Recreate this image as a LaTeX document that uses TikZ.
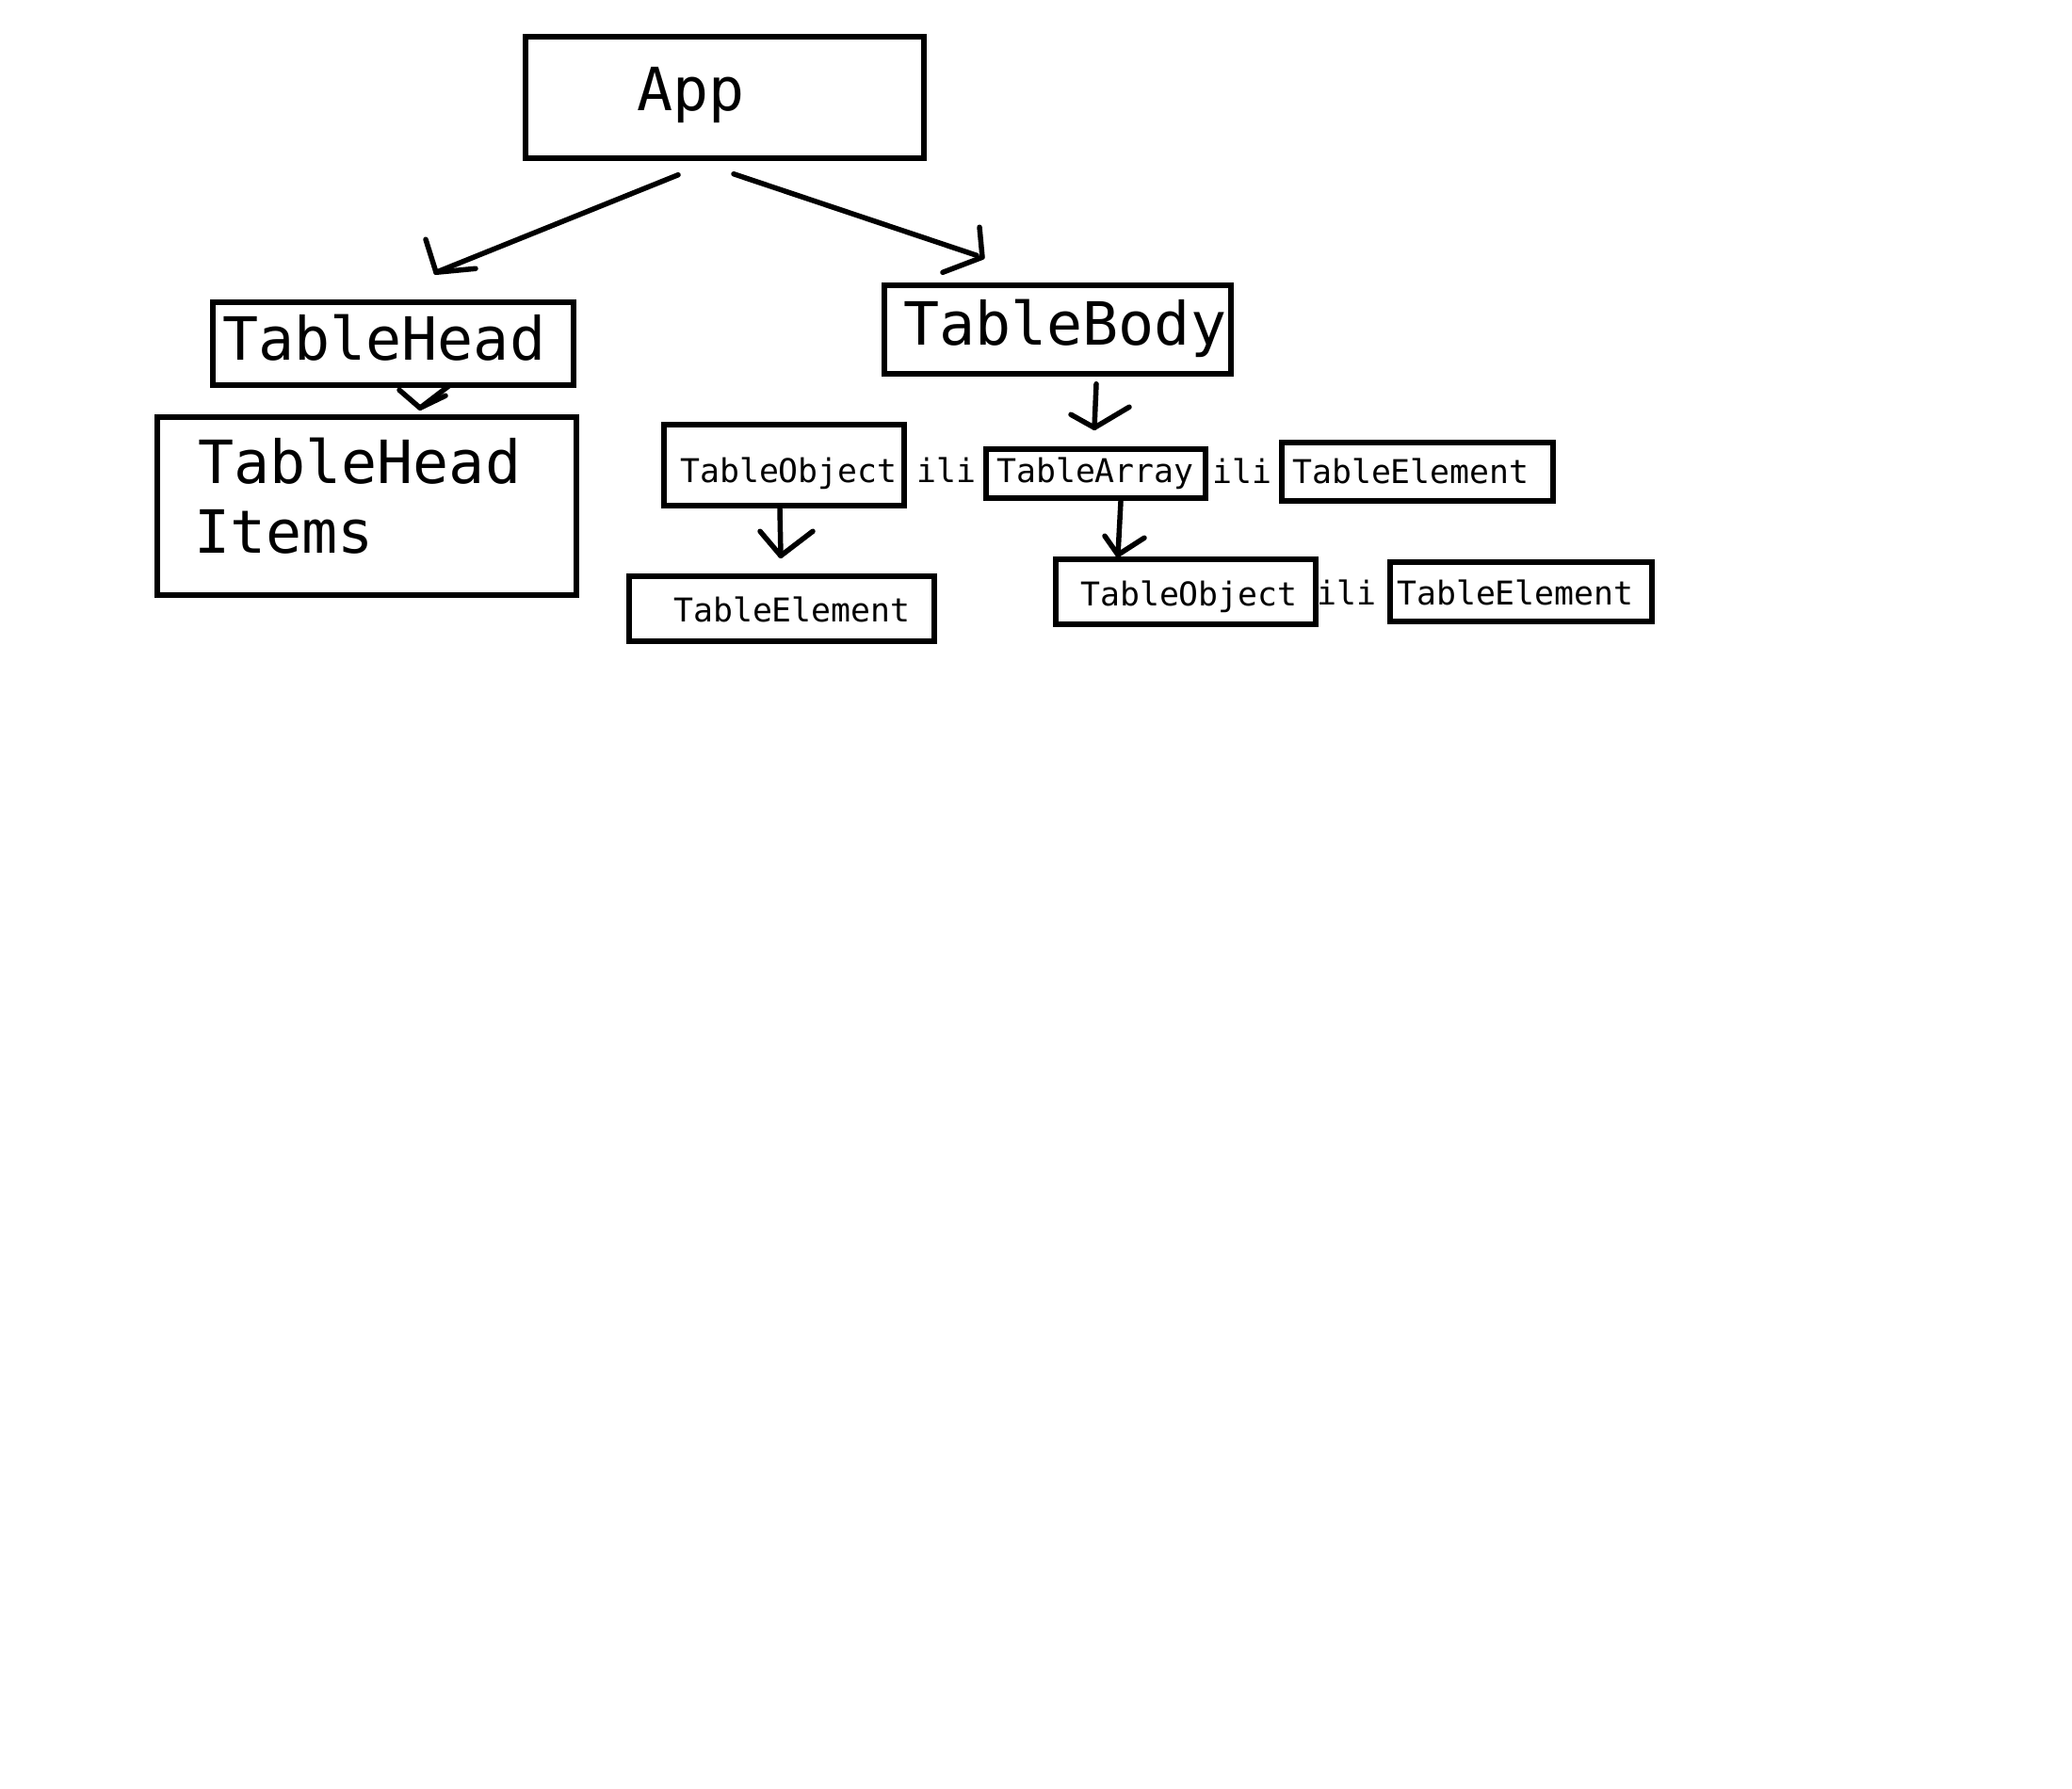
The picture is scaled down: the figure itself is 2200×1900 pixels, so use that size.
\documentclass[tikz,border=0pt]{standalone}
\usepackage{fontspec}
\newfontfamily\dmono{DejaVu Sans Mono}
\begin{document}
\begin{tikzpicture}[x=1pt,y=-1pt,
  box/.style={draw=black, line width=5.5pt, inner sep=0pt, rectangle},
  big/.style={font=\dmono\fontsize{63.3}{75}\selectfont, inner sep=0pt, anchor=base west},
  small/.style={font=\dmono\fontsize{34.8}{41}\selectfont, inner sep=0pt, anchor=base west},
  conn/.style={line width=5.5pt, line cap=round, line join=round}]
\fill[white] (0,0) rectangle (2200,1900);
\useasboundingbox (0,0) rectangle (2200,1900);

% boxes
\node[box, minimum width=423, minimum height=129] (app)   at (769.5,103.5) {};
\node[box, minimum width=383, minimum height=88]  (thead) at (417.5,365) {};
\node[box, minimum width=445, minimum height=189] (items) at (389.5,537.5) {};
\node[box, minimum width=368, minimum height=94]  (tbody) at (1123,350) {};
\node[box, minimum width=255, minimum height=86]  (tobj1) at (832.5,494) {};
\node[box, minimum width=233, minimum height=52]  (tarr)  at (1163.5,503) {};
\node[box, minimum width=288, minimum height=62]  (tel1)  at (1505,501) {};
\node[box, minimum width=324, minimum height=69]  (telA)  at (830,646.5) {};
\node[box, minimum width=276, minimum height=69]  (tobj2) at (1259,628.5) {};
\node[box, minimum width=278, minimum height=63]  (tel2)  at (1615,628.5) {};

% texts
\node[big] (lapp)    at (676,118) {App};
\node[big] (lthead)  at (236,382) {TableHead};
\node[big] (litems1) at (210,513) {TableHead};
\node[big] (litems2) at (206,587) {Items};
\node[big] (ltbody)  at (959,366) {TableBody};
\node[small] (ltobj1) at (722,512) {TableObject};
\node[small] (lili1)  at (973,512) {ili};
\node[small] (ltarr)  at (1058,512) {TableArray};
\node[small] (lili2)  at (1287,513) {ili};
\node[small] (ltel1)  at (1372,513) {TableElement};
\node[small] (ltelA)  at (715,660) {TableElement};
\node[small] (ltobj2) at (1147,643) {TableObject};
\node[small] (lili3)  at (1398,642) {ili};
\node[small] (ltel2)  at (1483,642) {TableElement};

% connectors (hand-drawn style)
\draw[conn] ([shift={(-49.5,15)}]app.south) -- ([shift={(45.5,-29)}]thead.north) coordinate (tip1);
\draw[conn] ([shift={(-11,-35)}]tip1) -- (tip1) -- ([shift={(42,-4)}]tip1);

\draw[conn] ([shift={(9.5,14)}]app.south) -- ([shift={(-86,-29)}]tbody.north) coordinate (end2);
\coordinate (tip2) at ([shift={(-80,-27)}]tbody.north);
\draw[conn] ([shift={(-3,-32)}]tip2) -- (tip2) -- ([shift={(-42,16)}]tip2);

\draw[conn] ([shift={(60.5,-3)}]thead.south) -- ([shift={(56.5,-7)}]items.north) coordinate (tip3);
\draw[conn] ([shift={(-22,-19)}]tip3) -- (tip3) -- ([shift={(27,-13)}]tip3);

\draw[conn] ([shift={(41,8)}]tbody.south) -- ([shift={(-1.5,-20)}]tarr.north) coordinate (tip4);
\draw[conn] ([shift={(-25,-14)}]tip4) -- (tip4) -- ([shift={(37,-22)}]tip4);

\draw[conn] ([shift={(-4.5,1)}]tobj1.south) -- ([shift={(-1,-19)}]telA.north) coordinate (tip5);
\draw[conn] ([shift={(-22,-26)}]tip5) -- (tip5) -- ([shift={(34,-26)}]tip5);

\draw[conn] ([shift={(26.5,1)}]tarr.south) -- ([shift={(-72,-2)}]tobj2.north) coordinate (tip6);
\draw[conn] ([shift={(-14,-20)}]tip6) -- (tip6) -- ([shift={(28,-18)}]tip6);
\end{tikzpicture}
\end{document}
